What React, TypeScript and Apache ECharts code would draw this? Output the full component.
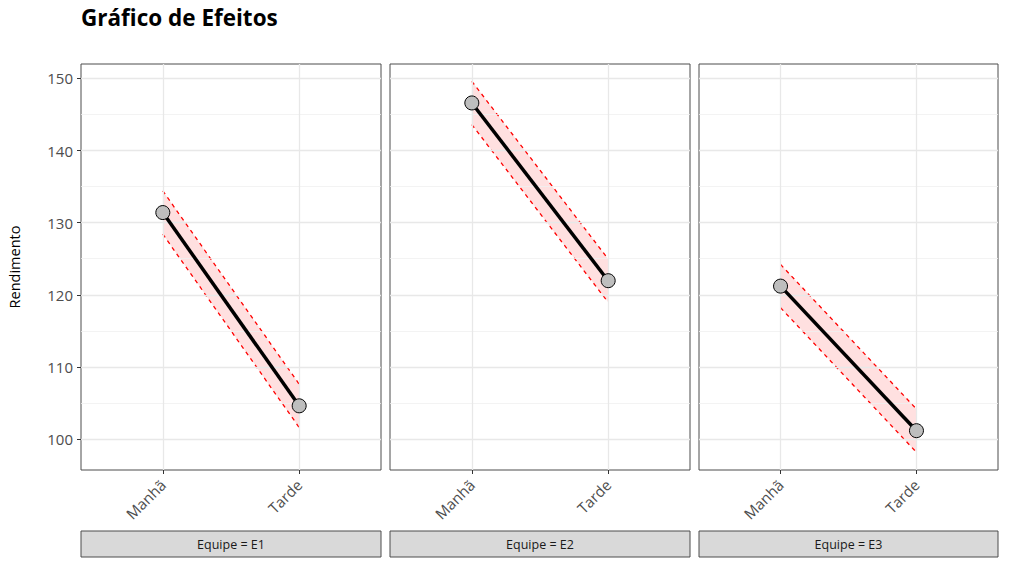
import React, { useEffect, useRef } from 'react';
import * as echarts from 'echarts';

const categories = ['Manhã', 'Tarde'];
const teams = ['E1', 'E2', 'E3'];
const meanE1 = [131.4, 104.6];
const meanE2 = [146.6, 121.95];
const meanE3 = [121.2, 101.15];
const lowerE1 = [128.4, 101.6];
const upperE1 = [134.4, 107.6];
const lowerE2 = [143.6, 118.95];
const upperE2 = [149.6, 124.95];
const lowerE3 = [118.2, 98.15];
const upperE3 = [124.2, 104.15];
const yMajorTicks = [100, 110, 120, 130, 140, 150];
const yMinorTicks = [105, 115, 125, 135, 145];

const means = [meanE1, meanE2, meanE3];
const lowers = [lowerE1, lowerE2, lowerE3];
const uppers = [upperE1, upperE2, upperE3];

const FONT = '"Open Sans", "Noto Sans", sans-serif';
const gridLefts = [81, 390, 699];
const gridWidths = [300, 300, 299];
const gridTop = 64;
const gridHeight = 406;
const catPos = categories.map((_, k) => k + 1);

function buildOption() {
  const grids: any[] = [];
  const xAxes: any[] = [];
  const yAxes: any[] = [];
  const series: any[] = [];
  const graphics: any[] = [];

  teams.forEach((team, i) => {
    grids.push({
      left: gridLefts[i],
      top: gridTop,
      width: gridWidths[i],
      height: gridHeight,
      show: true,
      borderColor: '#4d4d4d',
      borderWidth: 1,
      backgroundColor: '#ffffff',
      containLabel: false,
    });
    xAxes.push({
      type: 'value',
      gridIndex: i,
      min: 0.4,
      max: categories.length + 0.6,
      axisLine: { show: false },
      splitLine: { show: false },
      axisTick: {
        show: true,
        customValues: catPos,
        length: 4,
        lineStyle: { color: '#333333', width: 1 },
      },
      axisLabel: {
        customValues: catPos,
        formatter: (v: number) => categories[Math.round(v) - 1] ?? '',
        rotate: 45,
        fontSize: 15,
        color: '#4d4d4d',
        margin: 12,
        fontFamily: FONT,
      },
    });
    yAxes.push({
      type: 'value',
      gridIndex: i,
      min: 95.7,
      max: 152,
      axisLine: { show: false },
      splitLine: { show: false },
      axisTick: {
        show: i === 0,
        customValues: yMajorTicks,
        length: 4,
        lineStyle: { color: '#333333', width: 1 },
      },
      axisLabel: {
        show: i === 0,
        customValues: yMajorTicks,
        fontSize: 15,
        color: '#4d4d4d',
        margin: 8,
        fontFamily: FONT,
      },
    });

    const gl = [
      ...yMinorTicks.map((v) => ({ yAxis: v, lineStyle: { color: '#f0f0f0', width: 0.8, type: 'solid' } })),
      ...yMajorTicks.map((v) => ({ yAxis: v, lineStyle: { color: '#e8e8e8', width: 1.3, type: 'solid' } })),
      ...catPos.map((v) => ({ xAxis: v, lineStyle: { color: '#e8e8e8', width: 1.3, type: 'solid' } })),
    ];
    series.push({
      type: 'line',
      xAxisIndex: i,
      yAxisIndex: i,
      data: [],
      silent: true,
      z: 1,
      markLine: {
        silent: true,
        symbol: 'none',
        label: { show: false },
        animation: false,
        data: gl,
      },
    });

    const lo = lowers[i];
    const up = uppers[i];
    series.push({
      type: 'custom',
      xAxisIndex: i,
      yAxisIndex: i,
      z: 2,
      silent: true,
      data: catPos.map((x, k) => [x, lo[k], up[k]]),
      renderItem: (params: any, api: any) => {
        const k = params.dataIndex;
        if (k >= catPos.length - 1) return { type: 'group', children: [] };
        const pts = [
          api.coord([catPos[k], up[k]]),
          api.coord([catPos[k + 1], up[k + 1]]),
          api.coord([catPos[k + 1], lo[k + 1]]),
          api.coord([catPos[k], lo[k]]),
        ];
        return {
          type: 'polygon',
          shape: { points: pts },
          style: { fill: 'rgba(255,0,0,0.12)', stroke: 'none' },
        };
      },
    });

    [lo, up].forEach((arr) => {
      series.push({
        type: 'line',
        xAxisIndex: i,
        yAxisIndex: i,
        z: 3,
        silent: true,
        symbol: 'none',
        data: catPos.map((x, k) => [x, arr[k]]),
        lineStyle: { color: '#ff0000', width: 1.3, type: [4, 4] },
      });
    });

    series.push({
      type: 'line',
      xAxisIndex: i,
      yAxisIndex: i,
      z: 5,
      silent: true,
      symbol: 'circle',
      symbolSize: 14,
      showSymbol: true,
      data: catPos.map((x, k) => [x, means[i][k]]),
      lineStyle: { color: '#000000', width: 3.5 },
      itemStyle: { color: '#bebebe', borderColor: '#000000', borderWidth: 1 },
    });

    graphics.push({
      type: 'rect',
      shape: { x: gridLefts[i], y: 531, width: gridWidths[i], height: 26 },
      style: { fill: '#d9d9d9', stroke: '#4d4d4d', lineWidth: 1 },
    });
    graphics.push({
      type: 'text',
      x: gridLefts[i] + gridWidths[i] / 2,
      y: 544,
      style: {
        text: 'Equipe = ' + team,
        fill: '#1a1a1a',
        fontSize: 12.5,
        fontFamily: FONT,
        align: 'center',
        verticalAlign: 'middle',
      },
    });
  });

  graphics.push({
    type: 'text',
    x: 14,
    y: 267,
    rotation: Math.PI / 2,
    style: {
      text: 'Rendimento',
      fill: '#000000',
      fontSize: 14.5,
      fontFamily: FONT,
      align: 'center',
      verticalAlign: 'middle',
    },
  });

  return {
    animation: false,
    backgroundColor: '#ffffff',
    title: {
      text: 'Gráfico de Efeitos',
      left: 81,
      top: 6,
      padding: 0,
      textStyle: { fontSize: 22.5, fontWeight: 'bold', color: '#000000', fontFamily: FONT },
    },
    grid: grids,
    xAxis: xAxes,
    yAxis: yAxes,
    series,
    graphic: graphics,
  };
}

export default function App() {
  const ref = useRef<HTMLDivElement>(null);
  useEffect(() => {
    if (!ref.current) return;
    const chart = echarts.init(ref.current, undefined, { renderer: 'svg' });
    chart.setOption(buildOption() as any);
    return () => chart.dispose();
  }, []);
  return (
    <div
      ref={ref}
      style={{ position: 'fixed', left: 0, top: 0, width: 1009, height: 568, background: '#fff' }}
    />
  );
}
